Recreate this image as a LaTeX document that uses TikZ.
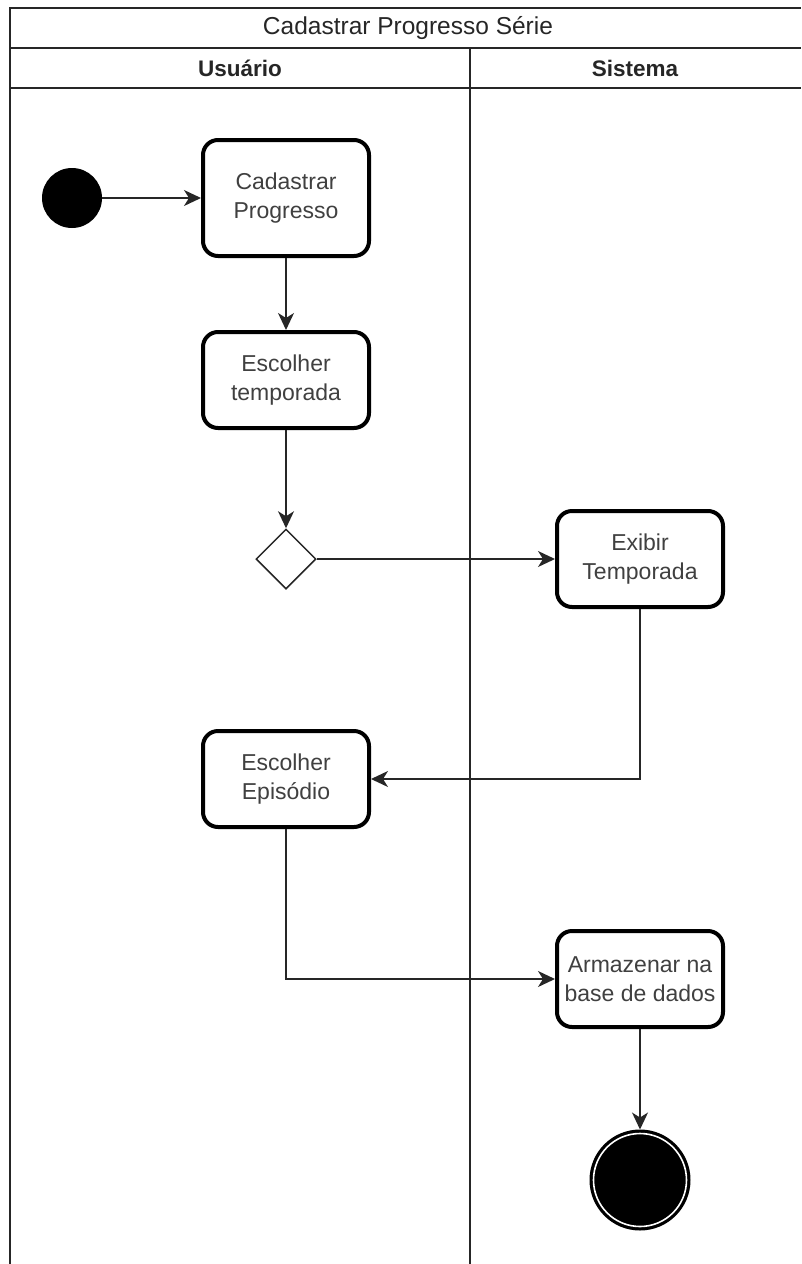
\documentclass[tikz,border=0pt]{standalone}
\usepackage{fontspec}
\setmainfont{Liberation Sans}
\usetikzlibrary{shapes.geometric,arrows.meta}
\tikzset{
  actbox/.style={draw=black, line width=4pt, rounded corners=15pt, fill=white,
    minimum width=166pt, minimum height=96pt, align=center,
    font=\fontsize{23}{29}\selectfont, text=black!75, inner sep=2pt},
  lanetitle/.style={font=\bfseries\fontsize{22.5}{28}\selectfont, text=black!85},
  frameline/.style={line width=2pt, draw=black!85},
  conn/.style={line width=1.4pt, draw=black!85, -{Stealth[length=17pt,width=16pt,inset=5pt]}},
  decision/.style={diamond, draw=black!85, line width=1.5pt, fill=white, minimum width=60pt, minimum height=60pt, inner sep=0pt},
}
\begin{document}
\begin{tikzpicture}[x=1pt,y=-1pt]
\useasboundingbox (0,0) rectangle (801,1264);
% swimlane frame
\draw[frameline] (10,1264) -- (10,8) -- (801,8);
\draw[frameline] (10,48) -- (801,48);
\draw[frameline] (10,88) -- (801,88);
\draw[frameline] (470,48) -- (470,1264);
\node[font=\fontsize{24.5}{30}\selectfont, text=black!85] (title) at (408,28) {Cadastrar Progresso Série};
\node[lanetitle] (lane1) at (240,68) {Usuário};
\node[lanetitle] (lane2) at (635,68) {Sistema};
% nodes
\node[circle, fill=black, minimum size=60pt, inner sep=0pt] (start) at (72,198) {};
\node[actbox, minimum height=116pt] (cad) at (286,198) {Cadastrar\\Progresso};
\node[actbox] (temp) at (286,380) {Escolher\\temporada};
\node[decision] (dec) at (286,559) {};
\node[actbox] (exib) at (640,559) {Exibir\\Temporada};
\node[actbox] (epis) at (286,779) {Escolher\\Episódio};
\node[actbox] (arm) at (640,979) {Armazenar na\\base de dados};
\node[circle, fill=black, draw=black, line width=3pt, minimum size=98pt, inner sep=0pt] (end) at (640,1180) {};
\draw[white, line width=1.6pt] (end.center) circle (46.5);
% connectors
\draw[conn] (start) -- (cad);
\draw[conn] (cad) -- (temp);
\draw[conn] (temp) -- (dec.north);
\draw[conn] (dec.east) -- (exib.west);
\draw[conn] (exib.south) |- (epis.east);
\draw[conn] (epis.south) |- (arm.west);
\draw[conn] (arm.south) -- (end.north);
\end{tikzpicture}
\end{document}
